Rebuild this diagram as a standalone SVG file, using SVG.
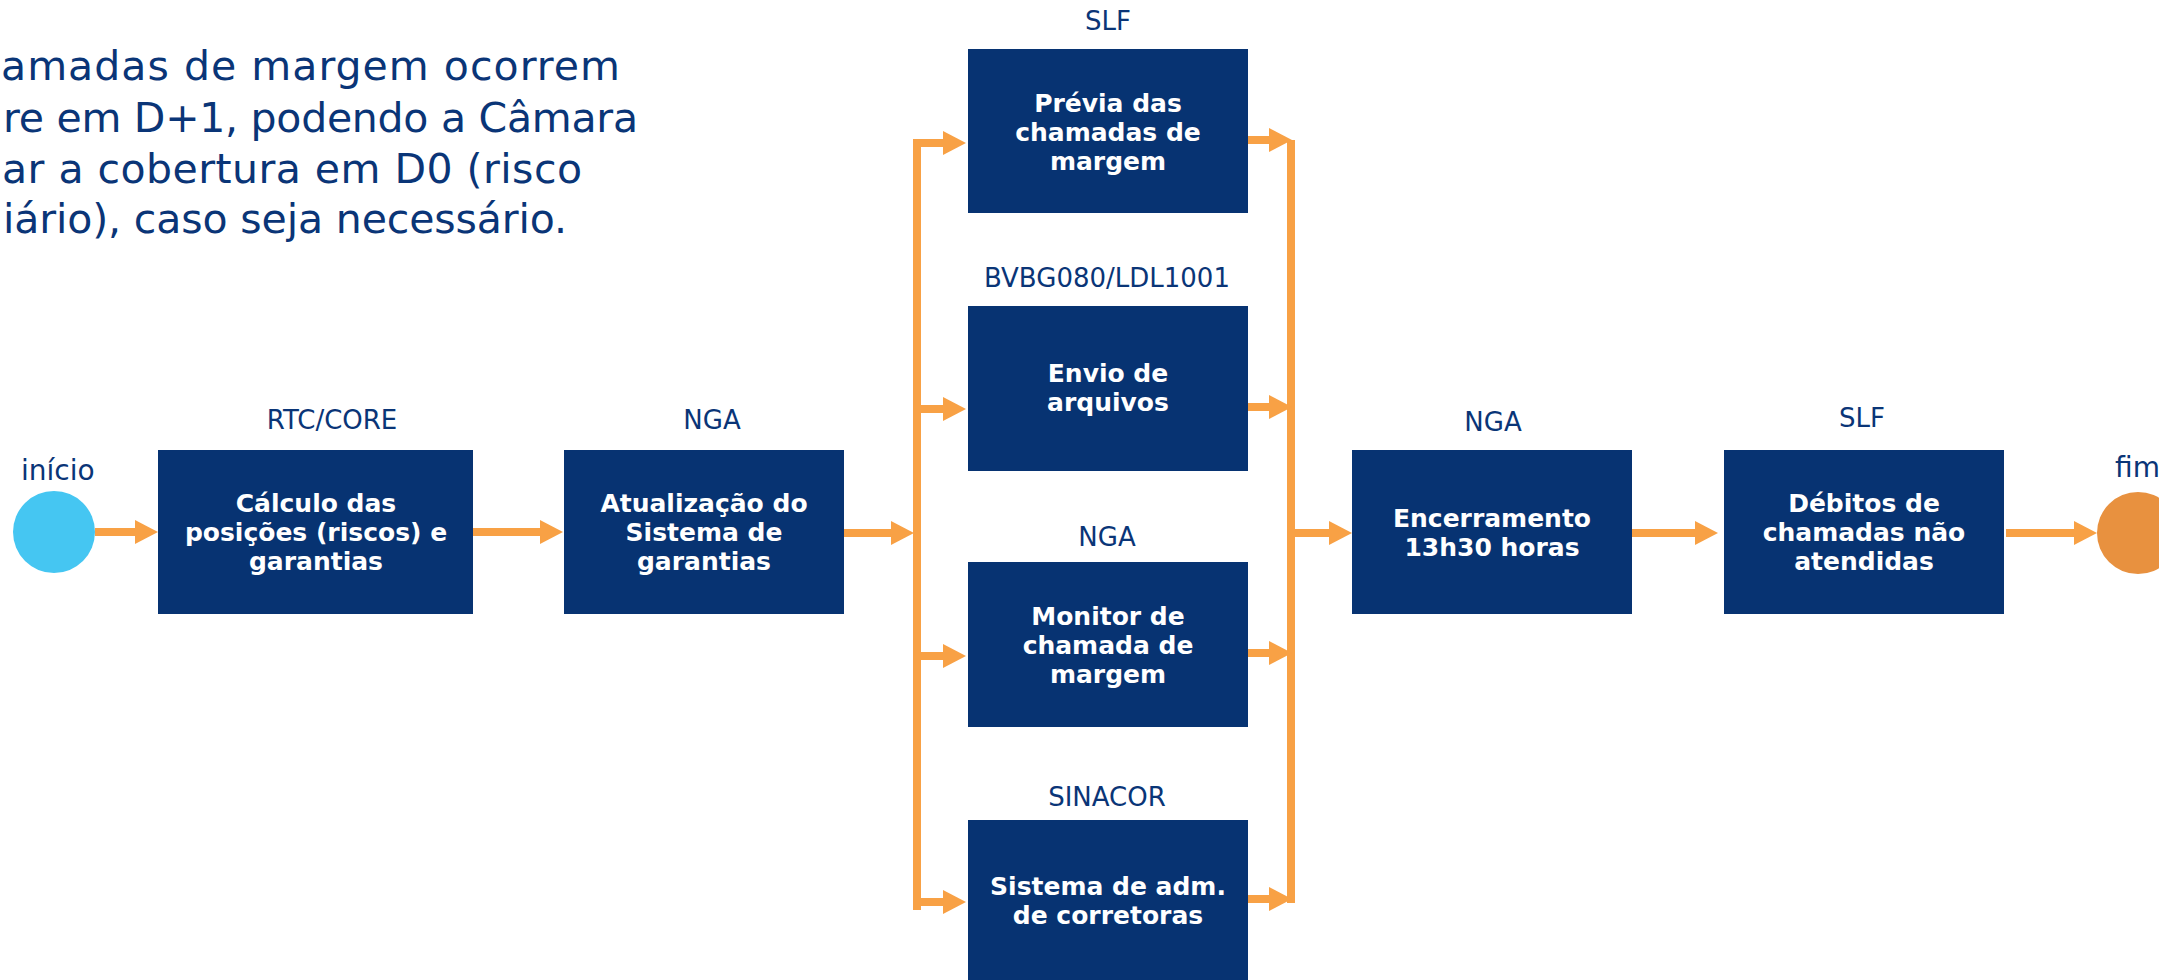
<svg xmlns="http://www.w3.org/2000/svg" width="2159" height="980" viewBox="0 0 2159 980">
<style>
.box{fill:#073372}
.bt{font-family:"DejaVu Sans",sans-serif;font-weight:bold;font-size:25px;fill:#ffffff;text-anchor:middle}
.lb{font-family:"DejaVu Sans",sans-serif;font-size:26px;fill:#0a3577;text-anchor:middle}
.se{font-family:"DejaVu Sans",sans-serif;font-size:28px;fill:#0a3577}
.intro{font-family:"DejaVu Sans",sans-serif;font-size:41px;fill:#0a3577}
.c{stroke:#F8A145;stroke-width:8;fill:none}
.a{marker-end:url(#ah)}
</style>
<defs>
<marker id="ah" markerUnits="userSpaceOnUse" viewBox="0 0 23 24" markerWidth="23" markerHeight="24" refX="1" refY="12" orient="auto">
<path d="M0,0 L23,12 L0,24 z" fill="#F8A145"/>
</marker>
</defs>
<rect width="2159" height="980" fill="#ffffff"/>
<g id="intro">
<text class="intro" x="1" y="80" textLength="619">amadas de margem ocorrem</text>
<text class="intro" x="3" y="132" textLength="635">re em D+1, podendo a Câmara</text>
<text class="intro" x="2" y="183" textLength="580">ar a cobertura em D0 (risco</text>
<text class="intro" x="3" y="233" textLength="564">iário), caso seja necessário.</text>
</g>
<g id="connectors">
<line class="c a" x1="95" y1="532" x2="136" y2="532"/>
<line class="c a" x1="473" y1="532" x2="541" y2="532"/>
<line class="c a" x1="844" y1="533" x2="892" y2="533"/>
<path class="c" d="M917,143 L917,906" stroke-linecap="square"/>
<line class="c a" x1="913" y1="143" x2="944" y2="143"/>
<line class="c a" x1="917" y1="409" x2="944" y2="409"/>
<line class="c a" x1="917" y1="656" x2="944" y2="656"/>
<line class="c a" x1="913" y1="902" x2="944" y2="902"/>
<path class="c" d="M1291,140 L1291,903"/>
<line class="c a" x1="1248" y1="140" x2="1270" y2="140"/>
<line class="c a" x1="1248" y1="407" x2="1270" y2="407"/>
<line class="c a" x1="1248" y1="653" x2="1270" y2="653"/>
<line class="c a" x1="1248" y1="899" x2="1270" y2="899"/>
<line class="c a" x1="1291" y1="533" x2="1330" y2="533"/>
<line class="c a" x1="1632" y1="533" x2="1696" y2="533"/>
<line class="c a" x1="2006" y1="533" x2="2075" y2="533"/>
</g>
<g id="start">
<circle cx="54" cy="532" r="41" fill="#45C6F2"/>
<text class="se" x="21" y="480">início</text>
</g>
<g id="n1">
<text class="lb" x="332" y="429">RTC/CORE</text>
<rect class="box" x="158" y="450" width="315" height="164"/>
<text class="bt" x="316" y="512">Cálculo das</text>
<text class="bt" x="316" y="541">posições (riscos) e</text>
<text class="bt" x="316" y="570">garantias</text>
</g>
<g id="n2">
<text class="lb" x="712" y="429">NGA</text>
<rect class="box" x="564" y="450" width="280" height="164"/>
<text class="bt" x="704" y="512">Atualização do</text>
<text class="bt" x="704" y="541">Sistema de</text>
<text class="bt" x="704" y="570">garantias</text>
</g>
<g id="n3">
<text class="lb" x="1108" y="30">SLF</text>
<rect class="box" x="968" y="49" width="280" height="164"/>
<text class="bt" x="1108" y="112">Prévia das</text>
<text class="bt" x="1108" y="141">chamadas de</text>
<text class="bt" x="1108" y="170">margem</text>
</g>
<g id="n4">
<text class="lb" x="1107" y="287">BVBG080/LDL1001</text>
<rect class="box" x="968" y="306" width="280" height="165"/>
<text class="bt" x="1108" y="382">Envio de</text>
<text class="bt" x="1108" y="411">arquivos</text>
</g>
<g id="n5">
<text class="lb" x="1107" y="546">NGA</text>
<rect class="box" x="968" y="562" width="280" height="165"/>
<text class="bt" x="1108" y="625">Monitor de</text>
<text class="bt" x="1108" y="654">chamada de</text>
<text class="bt" x="1108" y="683">margem</text>
</g>
<g id="n6">
<text class="lb" x="1107" y="806">SINACOR</text>
<rect class="box" x="968" y="820" width="280" height="165"/>
<text class="bt" x="1108" y="895">Sistema de adm.</text>
<text class="bt" x="1108" y="924">de corretoras</text>
</g>
<g id="n7">
<text class="lb" x="1493" y="431">NGA</text>
<rect class="box" x="1352" y="450" width="280" height="164"/>
<text class="bt" x="1492" y="527">Encerramento</text>
<text class="bt" x="1492" y="556">13h30 horas</text>
</g>
<g id="n8">
<text class="lb" x="1862" y="427">SLF</text>
<rect class="box" x="1724" y="450" width="280" height="164"/>
<text class="bt" x="1864" y="512">Débitos de</text>
<text class="bt" x="1864" y="541">chamadas não</text>
<text class="bt" x="1864" y="570">atendidas</text>
</g>
<g id="end">
<circle cx="2138" cy="533" r="41" fill="#E8913F"/>
<text class="se" x="2115" y="477">fim</text>
</g>
</svg>
